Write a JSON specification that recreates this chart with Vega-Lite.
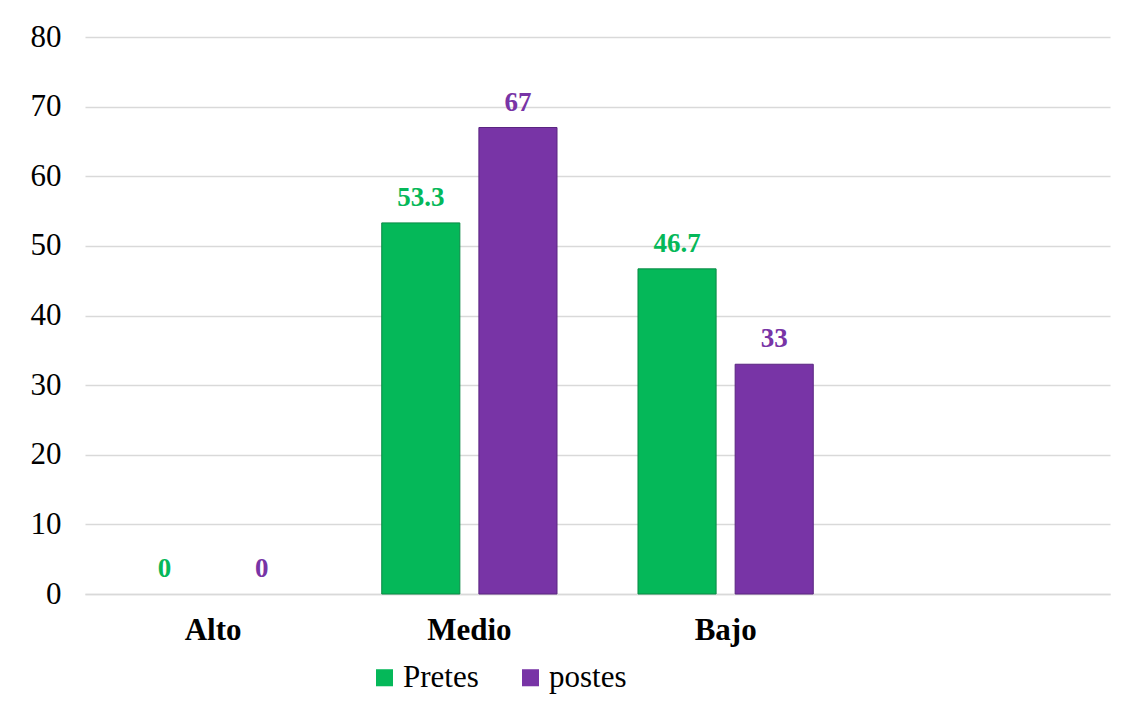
{
  "$schema": "https://vega.github.io/schema/vega-lite/v6.json",
  "width": 1025,
  "height": 557,
  "autosize": "none",
  "padding": {"left": 85, "top": 37, "right": 23, "bottom": 133},
  "background": "white",
  "config": {
    "font": "Liberation Serif, Times New Roman, serif",
    "view": {"stroke": null}
  },
  "data": {
    "values": [
      {"nivel": "Alto", "grupo": "Pretes", "valor": 0},
      {"nivel": "Alto", "grupo": "postes", "valor": 0},
      {"nivel": "Medio", "grupo": "Pretes", "valor": 53.3},
      {"nivel": "Medio", "grupo": "postes", "valor": 67},
      {"nivel": "Bajo", "grupo": "Pretes", "valor": 46.7},
      {"nivel": "Bajo", "grupo": "postes", "valor": 33}
    ]
  },
  "encoding": {
    "x": {
      "field": "nivel",
      "type": "nominal",
      "sort": null,
      "scale": {"domain": ["Alto", "Medio", "Bajo", " "], "paddingInner": 0.316, "paddingOuter": 0.158},
      "axis": {
        "title": null,
        "labelAngle": 0,
        "labelFont": "Liberation Serif, Times New Roman, serif",
        "labelFontSize": 31,
        "labelFontWeight": "bold",
        "labelColor": "black",
        "labelPadding": 21,
        "ticks": false,
        "domainColor": "#d9d9d9",
        "domainWidth": 1.5,
        "grid": false
      }
    },
    "xOffset": {
      "field": "grupo",
      "type": "nominal",
      "sort": ["Pretes", "postes"],
      "scale": {"paddingInner": 0.196, "paddingOuter": 0}
    },
    "y": {
      "field": "valor",
      "type": "quantitative",
      "scale": {"domain": [0, 80], "nice": false},
      "axis": {
        "title": null,
        "values": [0, 10, 20, 30, 40, 50, 60, 70, 80],
        "labelFont": "Liberation Serif, Times New Roman, serif",
        "labelFontSize": 31,
        "labelColor": "black",
        "labelPadding": 24,
        "ticks": false,
        "domain": false,
        "gridColor": "#d9d9d9",
        "gridWidth": 1.5
      }
    }
  },
  "layer": [
    {
      "transform": [{"filter": "datum.valor > 0"}],
      "mark": {"type": "bar", "strokeWidth": 1},
      "encoding": {
        "color": {
          "field": "grupo",
          "type": "nominal",
          "sort": ["Pretes", "postes"],
          "scale": {"domain": ["Pretes", "postes"], "range": ["#05B859", "#7834A6"]},
          "legend": {
            "title": null,
            "orient": "none",
            "direction": "horizontal",
            "legendX": 284,
            "legendY": 625,
            "symbolType": "square",
            "symbolSize": 290,
            "symbolStrokeWidth": 0,
            "labelFont": "Liberation Serif, Times New Roman, serif",
            "labelFontSize": 31,
            "labelColor": "black",
            "labelOffset": 3,
            "columnPadding": 36
          }
        },
        "stroke": {
          "field": "grupo",
          "type": "nominal",
          "scale": {"domain": ["Pretes", "postes"], "range": ["#0a8a45", "#5a2580"]},
          "legend": null
        }
      }
    },
    {
      "mark": {"type": "text", "baseline": "alphabetic", "dy": -17, "fontSize": 27, "fontWeight": "bold", "font": "Liberation Serif, Times New Roman, serif"},
      "encoding": {
        "text": {"field": "valor", "type": "quantitative"},
        "color": {
          "field": "grupo",
          "type": "nominal",
          "scale": {"domain": ["Pretes", "postes"], "range": ["#05B859", "#7834A6"]},
          "legend": null
        }
      }
    }
  ]
}
